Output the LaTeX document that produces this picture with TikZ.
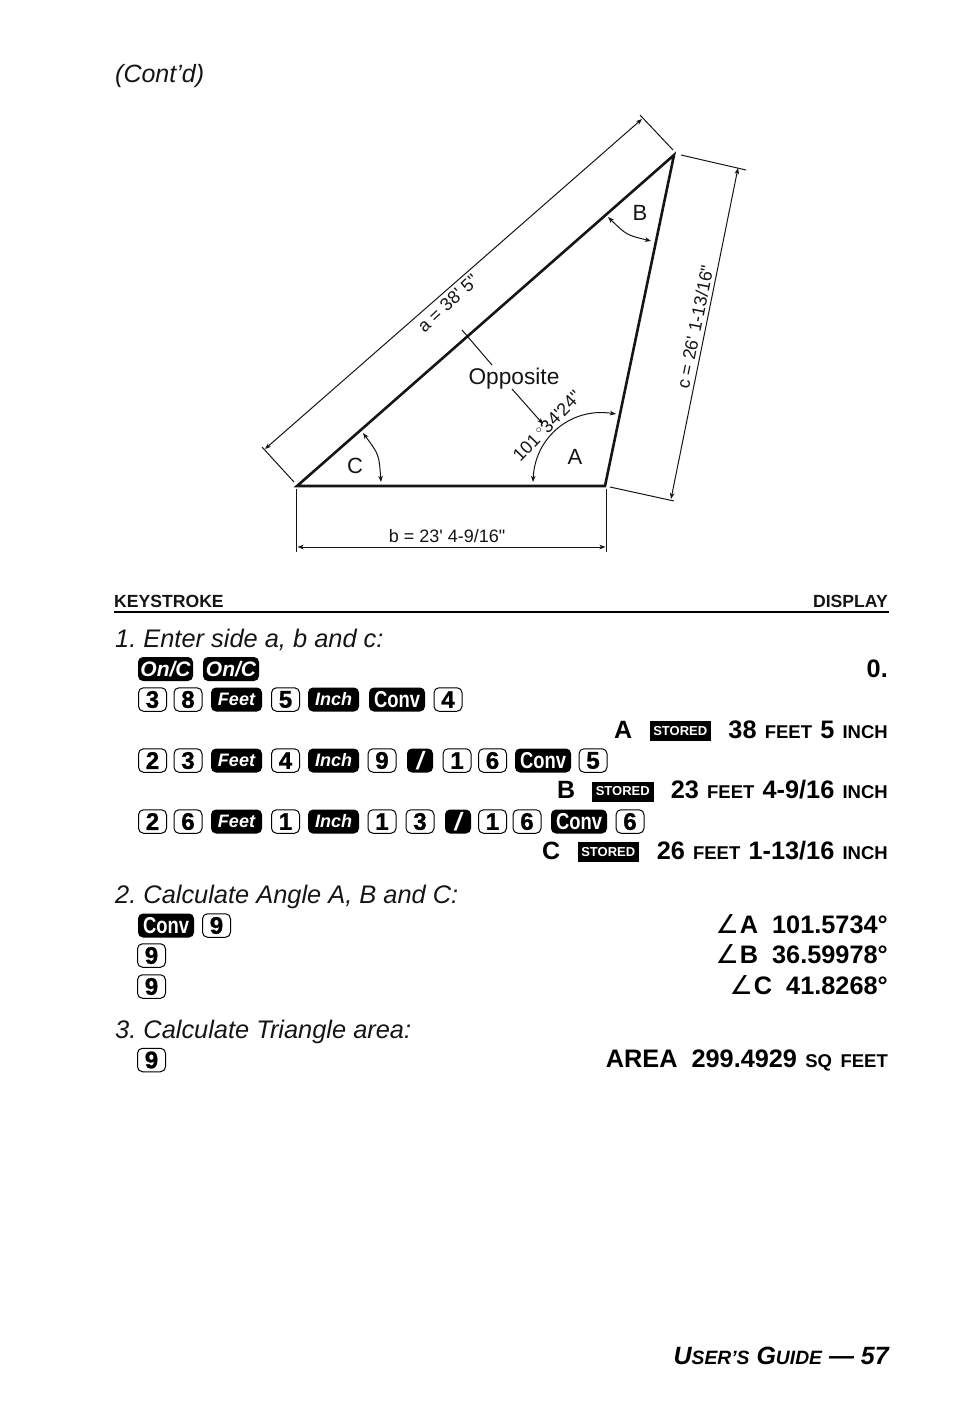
\documentclass[tikz,border=0pt]{standalone}
\usepackage{fontspec}
\setmainfont{Liberation Sans}[Ligatures=TeXOff]
\newfontfamily\angfont{DejaVu Sans}
\usetikzlibrary{arrows.meta}
\definecolor{ink}{HTML}{151515}
\frenchspacing
\newcommand{\fsz}[1]{\fontsize{#1}{#1}\selectfont}
\newcommand{\smc}[1]{{\fsz{18.5}#1}}
\newcommand{\gp}{\hspace{8.2pt}}
\newcommand{\angsym}{{\angfont\mdseries\itshape\fsz{26}∠}}
\newcommand{\heavy}{\addfontfeatures{FakeBold=1.2}}
\tikzset{
  thinline/.style={line width=1pt,draw=ink},
  dimline/.style={line width=1pt,draw=ink,{Stealth[length=6pt,width=4.5pt,inset=1.5pt]}-{Stealth[length=6pt,width=4.5pt,inset=1.5pt]}},
  oneway/.style={line width=1pt,draw=ink,-{Stealth[length=6pt,width=4.5pt,inset=1.5pt]}},
  side/.style={line width=2.6pt,draw=ink,line join=miter},
  dimtext/.style={text=ink,font=\fsz{18},inner sep=0pt},
  angtext/.style={text=ink,font=\fsz{22},inner sep=0pt},
  steptext/.style={text=ink,font=\fsz{25.4}\itshape,anchor=base west,inner sep=0pt},
  headtext/.style={text=ink,font=\fsz{17.6}\bfseries,inner sep=0pt},
  disp/.style={text=black,font=\fsz{25.3}\bfseries,anchor=base east,inner sep=0pt},
  displeft/.style={text=black,font=\fsz{25}\bfseries,anchor=base west,inner sep=0pt},
  digitkey/.style={draw=black,line width=1pt,fill=white,rounded corners=5pt,minimum width=28pt,minimum height=23.5pt,inner sep=0pt,text=black,font=\fsz{24}\bfseries\heavy},
  darkkey/.style={fill=black,rounded corners=5pt,minimum height=24pt,inner sep=0pt,text=white},
  italkey/.style={darkkey,font=\fsz{18}\bfseries\itshape},
  onkey/.style={darkkey,font=\fsz{21}\bfseries\itshape},
  convkey/.style={darkkey,minimum width=56pt,font=\fsz{23}\bfseries\addfontfeatures{FakeStretch=0.8}},
  storedbox/.style={fill=black,minimum width=61.5pt,minimum height=20pt,inner sep=0pt,text=white,font=\fsz{13}\bfseries},
}
\begin{document}
\begin{tikzpicture}[x=1pt,y=-1pt]
\useasboundingbox (0,0) rectangle (954,1406);
\node[steptext,font=\fsz{25}\itshape] (contd) at (115,82) {(Cont’d)};
% triangle
\coordinate (vC) at (297,486);
\coordinate (vA) at (605,486);
\coordinate (vB) at (674,155);
\draw[side] (vC) -- (vA) -- (vB) -- cycle;
% side a
\coordinate (aT1) at (640,115); \coordinate (aT2) at (673,150);
\coordinate (aB1) at (262,447); \coordinate (aB2) at (294,482);
\coordinate (aE1) at (265,449); \coordinate (aE2) at (642,119);
\draw[thinline] (aT1) -- (aT2);
\draw[thinline] (aB1) -- (aB2);
\draw[dimline] (aE1) -- (aE2);
\node[dimtext,rotate=43] (alabel) at (448,303) {a = 38' 5"};
% side c
\coordinate (cT1) at (681,155); \coordinate (cT2) at (746,170);
\coordinate (cB1) at (610,487); \coordinate (cB2) at (674,501);
\coordinate (cE1) at (738,168); \coordinate (cE2) at (671,499);
\draw[thinline] (cT1) -- (cT2);
\draw[thinline] (cB1) -- (cB2);
\draw[dimline] (cE1) -- (cE2);
\node[dimtext,rotate=78.5] (clabel) at (695,327) {c = 26' 1-13/16"};
% side b
\coordinate (bL1) at (296.5,489); \coordinate (bL2) at (296.5,552);
\coordinate (bR1) at (606.5,489); \coordinate (bR2) at (606.5,552);
\coordinate (bE1) at (297.5,547); \coordinate (bE2) at (605.5,547);
\draw[thinline] (bL1) -- (bL2);
\draw[thinline] (bR1) -- (bR2);
\draw[dimline] (bE1) -- (bE2);
\node[dimtext] (blabel) at (447,536) {b = 23' 4-9/16"};
% angles
\coordinate (arcB1) at (608,217); \coordinate (arcB2) at (651,241); \coordinate (arcBc) at (626.5,235);
\draw[dimline] (arcB1) .. controls (arcBc) .. (arcB2);
\coordinate (arcC1) at (363,433); \coordinate (arcC2) at (381,482); \coordinate (arcCc) at (379,454.5);
\draw[dimline] (arcC1) .. controls (arcCc) .. (arcC2);
\coordinate (arcA1) at (533,482); \coordinate (arcA2) at (616,414);
\coordinate (arcAc1) at (535,437); \coordinate (arcAc2) at (571.5,407);
\draw[dimline] (arcA1) .. controls (arcAc1) and (arcAc2) .. (arcA2);
\node[angtext] (nB) at (640,212.5) {B};
\node[angtext] (nC) at (355,466) {C};
\node[angtext] (nA) at (575,456.5) {A};
\node[dimtext,rotate=46] (anglabel) at (547,426) {101\,$^{\circ}$34'24"};
\node[angtext,font=\fsz{22.7}] (opp) at (514,379) {Opposite};
\coordinate (op1) at (462,330); \coordinate (op2) at (492,365);
\coordinate (op3) at (512,389); \coordinate (op4) at (543,424);
\draw[thinline] (op1) -- (op2);
\draw[oneway] (op3) -- (op4);
% header
\node[headtext,anchor=base west] (hk) at (114,607) {KEYSTROKE};
\node[headtext,anchor=base east] (hd) at (888,607) {DISPLAY};
\coordinate (ruleL) at (114,612); \coordinate (ruleR) at (889,612);
\draw[line width=2pt,draw=black] (ruleL) -- (ruleR);
% steps
\node[steptext] (s1) at (115,647) {1. Enter side a, b and c:};
\node[steptext] (s2) at (115,903) {2. Calculate Angle A, B and C:};
\node[steptext] (s3) at (115,1038) {3. Calculate Triangle area:};
% keys row 1
\node[onkey,minimum width=55pt] (on1) at (165.5,669) {On/C};
\node[onkey,minimum width=56pt] (on2) at (231,669) {On/C};
% row 2
\foreach \x/\t in {152.5/3,188/8,285.5/5,448/4} \node[digitkey] (ra\x) at (\x,699.5) {\t};
\node[italkey,minimum width=51pt] (raFeet) at (236.5,699.5) {Feet};
\node[italkey,minimum width=51pt] (raInch) at (333.5,699.5) {Inch};
\node[convkey] (raConv) at (397,699.5) {Conv};
% row 3
\foreach \x/\t in {152.5/2,188/3,285.5/4,382/9,457/1,492.5/6,593/5} \node[digitkey] (rb\x) at (\x,760.5) {\t};
\node[italkey,minimum width=51pt] (rbFeet) at (236.5,760.5) {Feet};
\node[italkey,minimum width=51pt] (rbInch) at (333.5,760.5) {Inch};
\node[italkey,minimum width=26pt,font=\fsz{25}\bfseries\itshape] (rbSl) at (420,760.5) {/};
\node[convkey] (rbConv) at (543,760.5) {Conv};
% row 4
\foreach \x/\t in {152.5/2,188/6,285.5/1,382/1,420/3,492.5/1,527/6,630/6} \node[digitkey] (rc\x) at (\x,821.5) {\t};
\node[italkey,minimum width=51pt] (rcFeet) at (236.5,821.5) {Feet};
\node[italkey,minimum width=51pt] (rcInch) at (333.5,821.5) {Inch};
\node[italkey,minimum width=26pt,font=\fsz{25}\bfseries\itshape] (rcSl) at (458,821.5) {/};
\node[convkey] (rcConv) at (579,821.5) {Conv};
% angle keys
\node[convkey] (rdConv) at (166,925.5) {Conv};
\node[digitkey] (rd9) at (216.5,925.5) {9};
\node[digitkey] (re9) at (151.5,955.5) {9};
\node[digitkey] (rf9) at (151.5,986.5) {9};
\node[digitkey] (rg9) at (151.5,1060) {9};
% display
\node[disp] (d0) at (888,677) {0.};
\node[displeft] (dA) at (614,738) {A};
\node[storedbox] (stA) at (680.25,731) {STORED};
\node[disp] (dAv) at (888,738) {38\gp\smc{FEET}\gp 5\gp\smc{INCH}};
\node[displeft] (dB) at (557,798) {B};
\node[storedbox] (stB) at (622.75,791.5) {STORED};
\node[disp] (dBv) at (888,798) {23\gp\smc{FEET}\gp 4-9/16\gp\smc{INCH}};
\node[displeft] (dC) at (542,859) {C};
\node[storedbox] (stC) at (608.25,852) {STORED};
\node[disp] (dCv) at (888,859) {26\gp\smc{FEET}\gp 1-13/16\gp\smc{INCH}};
\node[disp] (da1) at (888,933) {\angsym\hspace{1pt}A\hspace{14pt}101.5734°};
\node[disp] (da2) at (888,963) {\angsym\hspace{1pt}B\hspace{14pt}36.59978°};
\node[disp] (da3) at (888,994) {\angsym\hspace{1pt}C\hspace{14pt}41.8268°};
\node[disp] (da4) at (888,1067) {AREA\hspace{14pt}299.4929\gp\smc{SQ\hspace{8.5pt}FEET}};
% footer
\node[text=black,font=\fsz{25}\bfseries\itshape,anchor=base east,inner sep=0pt] (foot) at (889,1364) {U{\fsz{19.3}SER’S} G{\fsz{19.3}UIDE} — 57};
\end{tikzpicture}
\end{document}
